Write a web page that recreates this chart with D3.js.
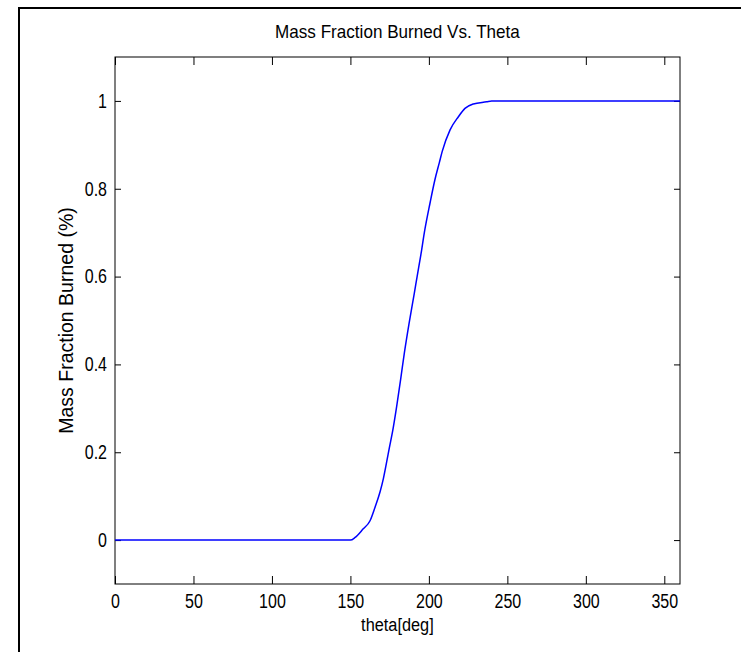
<html>
<head>
<script src="https://d3js.org/d3.v7.min.js"></script>
<style>
body { margin: 0; background: #fff; }
svg text { font-family: "Liberation Sans", Arial, sans-serif; fill: #000; }
.tick text { transform-box: fill-box; transform-origin: center; transform: scaleX(0.8); }
.yaxis .tick text { transform-origin: right center; }
</style>
</head>
<body>
<div id="plot"></div>
<script>
// crank angle (deg) and mass fraction burned
var theta = [0, 150, 153, 158, 162.5, 165.7, 168.9, 171, 173.1, 174.8, 176.9, 179.5, 182, 184.4,
  187.3, 190.7, 192.5, 195, 197.1, 200.7, 203.8, 206.7, 208.5, 213.5, 218.8, 223, 228.3, 236.8, 240, 360];
var mfb = [0, 0, 0.006, 0.025, 0.044, 0.075, 0.11, 0.14, 0.178, 0.21, 0.248, 0.305, 0.366, 0.427,
  0.492, 0.562, 0.6, 0.652, 0.7, 0.767, 0.82, 0.86, 0.885, 0.934, 0.964, 0.983, 0.993, 0.998, 1, 1];
var xTicks = [0, 50, 100, 150, 200, 250, 300, 350];
var yTicks = [0, 0.2, 0.4, 0.6, 0.8, 1];

var width = 741, height = 652;
var padLeft = 115, padRight = 680, padTop = 57, padBottom = 584;

var svg = d3.select("#plot").append("svg")
  .attr("width", width).attr("height", height);

// outer figure frame
svg.append("rect")
  .attr("x", 19).attr("y", 8).attr("width", 900).attr("height", 900)
  .style("fill", "none").style("stroke", "#000").style("stroke-width", 2);

var xScale = d3.scaleLinear().domain([0, 360]).range([padLeft, padRight]);
var yScale = d3.scaleLinear().domain([-0.1, 1.1]).range([padBottom, padTop]);

function styleAxis(g) {
  g.attr("font-family", null).attr("font-size", null);
  g.select(".domain").remove();
  g.selectAll(".tick line").style("stroke", "#000");
  g.selectAll(".tick text").style("font-size", "20px");
}

var fmt = d => String(+d.toFixed(1));

svg.append("g").attr("transform", "translate(0," + padBottom + ")")
  .call(d3.axisBottom(xScale).tickValues(xTicks).tickSize(-8).tickPadding(10).tickFormat(fmt))
  .call(styleAxis);
svg.append("g").attr("transform", "translate(0," + padTop + ")")
  .call(d3.axisTop(xScale).tickValues(xTicks).tickSize(-8).tickFormat(""))
  .call(styleAxis);
svg.append("g").attr("class", "yaxis").attr("transform", "translate(" + padLeft + ",0)")
  .call(d3.axisLeft(yScale).tickValues(yTicks).tickSize(-6).tickPadding(8).tickFormat(fmt))
  .call(styleAxis);
svg.append("g").attr("transform", "translate(" + padRight + ",0)")
  .call(d3.axisRight(yScale).tickValues(yTicks).tickSize(-6).tickFormat(""))
  .call(styleAxis);

// axes box
svg.append("rect")
  .attr("x", padLeft).attr("y", padTop).attr("width", padRight - padLeft).attr("height", padBottom - padTop)
  .style("fill", "none").style("stroke", "#000").style("stroke-width", 1);

var points = theta.map((t, i) => ({ x: t, y: mfb[i] }));
var line = d3.line().x(d => xScale(d.x)).y(d => yScale(d.y)).curve(d3.curveMonotoneX);
svg.append("path")
  .attr("d", line(points))
  .style("fill", "none")
  .style("stroke", "#0000ff")
  .style("stroke-width", 1.5);

svg.append("text").attr("x", (padLeft + padRight) / 2).attr("y", 38)
  .attr("text-anchor", "middle").style("font-size", "18px")
  .attr("transform", "translate(397,0) scale(0.95,1) translate(-397,0)")
  .text("Mass Fraction Burned Vs. Theta");
svg.append("text").attr("x", (padLeft + padRight) / 2).attr("y", 631)
  .attr("text-anchor", "middle").style("font-size", "19px")
  .attr("transform", "translate(397,0) scale(0.86,1) translate(-397,0)")
  .text("theta[deg]");
svg.append("text").attr("transform", "rotate(-90)")
  .attr("x", -(padTop + padBottom) / 2).attr("y", 73)
  .attr("text-anchor", "middle").style("font-size", "19.5px")
  .text("Mass Fraction Burned (%)");
</script>
</body>
</html>
